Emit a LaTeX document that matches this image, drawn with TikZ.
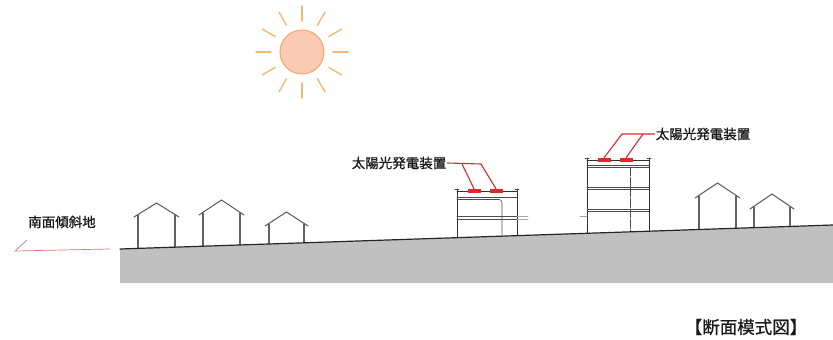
\documentclass[tikz,border=0pt]{standalone}
\usepackage{fontspec}
\newfontfamily\jp[FakeBold=0.8]{Noto Sans CJK JP}
\usetikzlibrary{positioning,calc}

\definecolor{sunfill}{RGB}{250,202,178}
\definecolor{sunline}{RGB}{236,168,110}
\definecolor{sunray}{RGB}{242,186,112}
\definecolor{solarred}{RGB}{222,40,44}
\definecolor{slopered}{RGB}{214,120,132}
\definecolor{groundgray}{RGB}{192,192,192}

\begin{document}
\begin{tikzpicture}[
  x=1pt, y=-1pt, line cap=round,
  house/.style={draw=black!62, line width=1.1pt},
  wall/.style={draw=black!80, line width=0.9pt},
  slab/.style={draw=black!70, line width=0.55pt},
  ledge/.style={draw=black!35, line width=0.55pt},
  panel/.style={fill=solarred, draw=solarred, minimum width=12pt, minimum height=3pt, inner sep=0pt},
  lead/.style={draw=solarred, line width=1.1pt},
  ray/.style={draw=sunray, line width=1.4pt},
  lbl/.style={font=\jp\fontsize{13.5}{14}\selectfont, text=black!90, inner sep=1pt},
]
\useasboundingbox (0,0) rectangle (833,340);

% sun
\node[circle, fill=sunfill, draw=sunline, line width=1pt, minimum size=44pt, inner sep=0pt] (sun) at (302,52) {};
\foreach \a in {0,30,...,330}
  \draw[ray] ($(sun.center)+(\a:31)$) -- ($(sun.center)+(\a:46)$);

% houses: eave left / eave right / ridge / eave height
\foreach \l/\r/\p/\e in {134/179/203/217, 199/244/200/215, 265/308/212/226,
                         695/740/183/198, 750/794/194/209} {
  \draw[house] (\l,\e) -- ({(\l+\r)/2},\p) -- (\r,\e);
  \draw[house] (\l+4,\e-2) -- (\l+4,250);
  \draw[house] (\r-4,\e-2) -- (\r-4,250);
}

% two storey block
\draw[wall] (457,189) -- (457,245);
\draw[wall] (517,189) -- (517,245);
\draw[wall] (457,191) -- (517,191);
\draw[slab] (455,189) -- (459,189) (515,189) -- (519,189);
\draw[slab] (457,197) -- (517,197);
\draw[slab] (457,199.5) -- (499,199.5) to[out=0,in=90] (502,202.5) -- (502,245);
\draw[slab] (457,216.5) -- (517,216.5);
\draw[slab] (457,219) -- (517,219);
\draw[ledge] (517,216.5) -- (528,216.5) (517,219) -- (528,219);

% three storey block
\draw[wall] (587,158) -- (587,245);
\draw[wall] (649,158) -- (649,245);
\draw[wall] (587,160.5) -- (649,160.5);
\draw[slab] (585,158) -- (589,158) (647,158) -- (651,158);
\foreach \y in {165,187.5,209.5} {
  \draw[slab] (587,\y) -- (649,\y);
  \draw[slab] (587,\y+2) -- (649,\y+2);
}
\draw[slab, dash pattern=on 9pt off 1.5pt] (630,167) -- (630,245);
\draw[ledge] (580,216) -- (587,216);

% ground
\fill[groundgray] (120,249) -- (833,225) -- (833,283) -- (120,283) -- cycle;
\draw[draw=black!85, line width=1.2pt] (120,249) -- (833,225);

% solar panels
\node[panel] (p11) at (474,190.5) {};
\node[panel] (p12) at (496,190.5) {};
\node[panel] (p21) at (604,159.5) {};
\node[panel] (p22) at (626,159.5) {};

% labels
\node[lbl] (pv1) at (399,163) {太陽光発電装置};
\node[lbl] (pv2) at (703,134) {太陽光発電装置};
\node[lbl] (slope) at (62,222) {南面傾斜地};
\node[font=\jp\fontsize{17.5}{18}\selectfont, text=black!90] (title) at (746,327) {【断面模式図】};

% leaders
\coordinate (b1a) at (462,164);
\coordinate (b1k) at (481,164);
\draw[lead] (pv1.east) -- (b1k) -- (p12.north);
\draw[lead] (b1a) -- (p11.north);
\coordinate (b2a) at (643,134);
\coordinate (b2k) at (622,134);
\draw[lead] (pv2.west) -- (b2k) -- (p21.north);
\draw[lead] (b2a) -- (p22.north);

% slope mark
\draw[slopered, line width=0.7pt] (27,240) -- (15,251) -- (110,249);
\end{tikzpicture}
\end{document}
